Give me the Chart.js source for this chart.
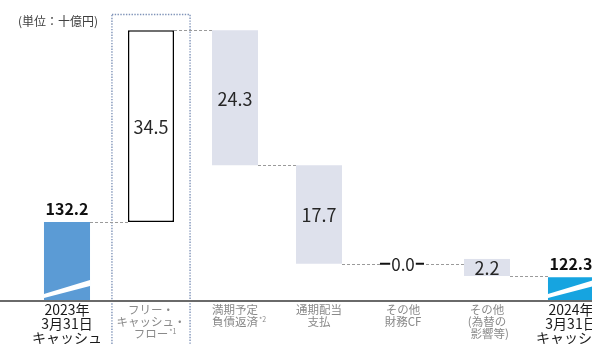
<!DOCTYPE html>
<html lang="ja">
<head>
<meta charset="utf-8">
<script src="https://cdn.jsdelivr.net/npm/chart.js@4.4.1/dist/chart.umd.min.js"></script>
<style>
  html, body { margin: 0; padding: 0; background: #fff; overflow: hidden; }
  #wrap { width: 592px; height: 344px; overflow: hidden; }
  canvas { display: block; }
</style>
</head>
<body>
<div id="wrap"><canvas id="cfChart" width="620" height="344"></canvas></div>
<script>
  // キャッシュの増減（単位：十億円）
  const categories = [
    ['2023年', '3月31日', 'キャッシュ'],
    ['フリー・', 'キャッシュ・', 'フロー'],
    ['満期予定', '負債返済'],
    ['通期配当', '支払'],
    ['その他', '財務CF'],
    ['その他', '(為替の', '  影響等)'],
    ['2024年', '3月31日', 'キャッシュ']
  ];
  const notes = ['', '*1', '*2', '', '', '', ''];
  const stepValues = [132.2, 34.5, -24.3, -17.7, -0.0, -2.2, 122.3];
  const stepKinds = ['total', 'step', 'step', 'step', 'step', 'step', 'total'];
  const unitLabel = '(単位：十億円)';

  // 縦軸は途中を省略して表示
  const axisFloor = 118.2;
  const axisTop = 169.6;

  const FONT = "'Noto Sans CJK JP', 'Noto Sans', sans-serif";

  // 積み上げ位置を計算
  const levels = [];
  const ranges = [];
  let level = 0;
  stepValues.forEach((v, i) => {
    if (stepKinds[i] === 'total') {
      level = v;
      ranges.push([axisFloor, v]);
    } else {
      const from = level;
      level = Math.round((level + v) * 10) / 10;
      ranges.push([Math.min(from, level), Math.max(from, level)]);
    }
    levels.push(level);
  });

  const barColors = ['#5B9BD5', '#FFFFFF', '#DEE1EC', '#DEE1EC', '#DEE1EC', '#DEE1EC', '#16A4E0'];
  const borderColors = ['#5B9BD5', '#000000', '#DEE1EC', '#DEE1EC', '#DEE1EC', '#DEE1EC', '#16A4E0'];
  const borderWidths = [0, 1.5, 0, 0, 0, 0, 0];

  const waterfallDecor = {
    id: 'waterfallDecor',
    beforeDatasetsDraw(chart) {
      const ctx = chart.ctx;
      const x = chart.scales.x;
      const y = chart.scales.y;
      const bars = chart.getDatasetMeta(0).data;
      const step = x.getPixelForValue(1) - x.getPixelForValue(0);

      // フリー・キャッシュ・フローを囲む点線
      ctx.save();
      const cx = x.getPixelForValue(1);
      const half = step * 0.465;
      ctx.strokeStyle = '#7F93B8';
      ctx.lineWidth = 1.4;
      ctx.setLineDash([1.4, 1.4]);
      ctx.strokeRect(cx - half, chart.chartArea.top + 0.5, half * 2, chart.height + 10);
      ctx.restore();

      // 棒同士をつなぐ破線
      ctx.save();
      ctx.strokeStyle = '#9a9a9a';
      ctx.lineWidth = 1;
      ctx.setLineDash([3, 2]);
      for (let i = 0; i < bars.length - 1; i++) {
        const py = Math.round(y.getPixelForValue(levels[i])) + 0.5;
        ctx.beginPath();
        ctx.moveTo(bars[i].x + bars[i].width / 2, py);
        ctx.lineTo(bars[i + 1].x - bars[i + 1].width / 2, py);
        ctx.stroke();
      }
      ctx.restore();
    },
    afterDatasetsDraw(chart) {
      const ctx = chart.ctx;
      const bars = chart.getDatasetMeta(0).data;
      const area = chart.chartArea;

      bars.forEach((bar, i) => {
        const left = bar.x - bar.width / 2;
        const right = bar.x + bar.width / 2;
        const top = Math.min(bar.y, bar.base);
        const bottom = Math.max(bar.y, bar.base);
        const text = Math.abs(stepValues[i]).toFixed(1);

        ctx.save();
        ctx.textAlign = 'center';
        ctx.textBaseline = 'middle';

        if (stepKinds[i] === 'total') {
          // 省略を示す白い斜線
          ctx.fillStyle = '#ffffff';
          ctx.beginPath();
          ctx.moveTo(left, bottom - 6);
          ctx.lineTo(right, bottom - 20);
          ctx.lineTo(right, bottom - 14);
          ctx.lineTo(left, bottom - 2);
          ctx.closePath();
          ctx.fill();

          ctx.font = 'bold 16px ' + FONT;
          ctx.fillStyle = '#111111';
          ctx.fillText(text, bar.x, top - 13);
        } else if (bottom - top < 1) {
          // 変動ゼロの項目
          ctx.strokeStyle = '#111111';
          ctx.lineWidth = 2;
          ctx.beginPath();
          ctx.moveTo(left, top);
          ctx.lineTo(right - 2, top);
          ctx.stroke();
          ctx.font = '17px ' + FONT;
          const w = ctx.measureText(text).width;
          ctx.fillStyle = '#ffffff';
          ctx.fillRect(bar.x - w / 2 - 1, top - 10, w + 2, 20);
          ctx.fillStyle = '#262626';
          ctx.fillText(text, bar.x, top + 1);
        } else if (bottom - top < 20) {
          // 小さい棒はラベルに背景を敷く
          const cy = (top + bottom) / 2 - 3;
          ctx.font = '18px ' + FONT;
          ctx.fillStyle = barColors[i];
          ctx.fillRect(left, cy - 8, bar.width, 16);
          ctx.fillStyle = '#262626';
          ctx.fillText(text, bar.x, cy + 1);
        } else {
          ctx.font = '18px ' + FONT;
          ctx.fillStyle = '#262626';
          ctx.fillText(text, bar.x, (top + bottom) / 2 + 1);
        }
        ctx.restore();

        // 項目名
        ctx.save();
        ctx.textAlign = 'center';
        ctx.textBaseline = 'middle';
        const isTotal = stepKinds[i] === 'total';
        const size = isTotal ? 14 : 11.5;
        const lh = isTotal ? 14 : 12;
        const y0 = isTotal ? area.bottom + 10 : area.bottom + 10;
        ctx.font = size + 'px ' + FONT;
        ctx.fillStyle = isTotal ? '#1a1a1a' : '#8a8a8a';
        const lines = categories[i];
        lines.forEach((line, k) => {
          ctx.fillText(line, bar.x, y0 + k * lh);
        });
        if (notes[i]) {
          const last = lines[lines.length - 1];
          const w = ctx.measureText(last).width;
          ctx.font = '7px ' + FONT;
          ctx.textAlign = 'left';
          ctx.fillText(notes[i], bar.x + w / 2 + 1, y0 + (lines.length - 1) * lh - 3);
        }
        ctx.restore();
      });

      // 横軸の線
      ctx.save();
      ctx.strokeStyle = '#6a6a6a';
      ctx.lineWidth = 2;
      ctx.beginPath();
      ctx.moveTo(0, area.bottom + 1);
      ctx.lineTo(chart.width, area.bottom + 1);
      ctx.stroke();

      // 単位
      ctx.font = '12px ' + FONT;
      ctx.fillStyle = '#404040';
      ctx.textAlign = 'left';
      ctx.textBaseline = 'middle';
      ctx.fillText(unitLabel, 18, 21);
      ctx.restore();
    }
  };

  const ctx = document.getElementById('cfChart').getContext('2d');
  new Chart(ctx, {
    type: 'bar',
    data: {
      labels: categories,
      datasets: [{
        data: ranges,
        backgroundColor: barColors,
        borderColor: borderColors,
        borderWidth: borderWidths,
        borderSkipped: false,
        barPercentage: 0.548,
        categoryPercentage: 1
      }]
    },
    options: {
      responsive: false,
      animation: false,
      layout: { padding: { left: 25, right: 7, top: 14, bottom: 44 } },
      plugins: {
        legend: { display: false },
        tooltip: { enabled: false }
      },
      scales: {
        x: { display: false },
        y: { display: false, min: axisFloor, max: axisTop }
      }
    },
    plugins: [waterfallDecor]
  });
</script>
</body>
</html>
